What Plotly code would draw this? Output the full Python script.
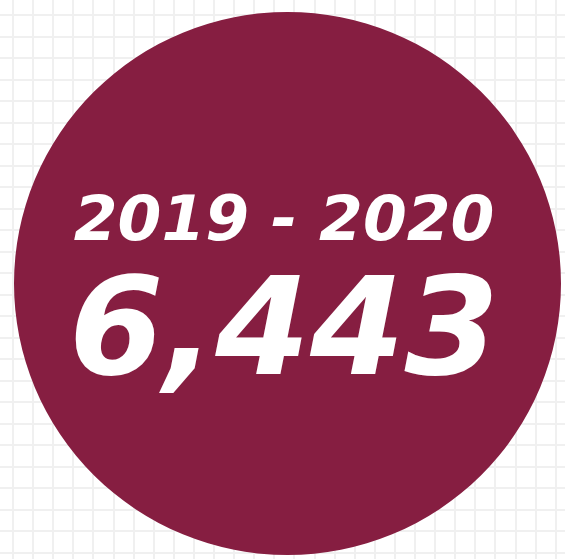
import plotly.graph_objects as go

# Data
period_label = "2019 - 2020"
total_value = 6443
value_label = f"{total_value:,}"

W, H = 565, 559
maroon = "#861E41"

fig = go.Figure()

# invisible trace to establish axes
fig.add_trace(go.Scatter(x=[0, W], y=[0, H], mode="markers",
                         marker=dict(opacity=0), hoverinfo="skip", showlegend=False))

fig.add_shape(type="circle", xref="x", yref="y",
              x0=14, x1=561, y0=12, y1=555,
              fillcolor=maroon, line=dict(width=0), layer="above")

label = (f"<span style='font-size:63px'>{period_label}</span><br>"
         f"<span style='font-size:136px'>{value_label}</span>")
fig.add_annotation(x=284, y=294, xref="x", yref="y", text=label,
                   showarrow=False, xanchor="center", yanchor="middle",
                   align="center",
                   font=dict(family="DejaVu Sans", size=103, color="white",
                             style="italic", weight="bold"))

fig.update_layout(
    width=W, height=H,
    margin=dict(l=0, r=0, t=0, b=0),
    paper_bgcolor="white", plot_bgcolor="white",
    xaxis=dict(range=[0, W], showgrid=True, gridcolor="#f0f0f0", gridwidth=1.5,
               tick0=13, dtick=20.1, showticklabels=False, zeroline=False,
               ticks="", fixedrange=True),
    yaxis=dict(range=[H, 0], showgrid=True, gridcolor="#f0f0f0", gridwidth=1.5,
               tick0=15, dtick=21.52, showticklabels=False, zeroline=False,
               ticks="", fixedrange=True),
)

fig.write_html("out.html", config={"displayModeBar": False},
               post_script="document.body.style.margin='0';document.body.style.overflow='hidden';")
